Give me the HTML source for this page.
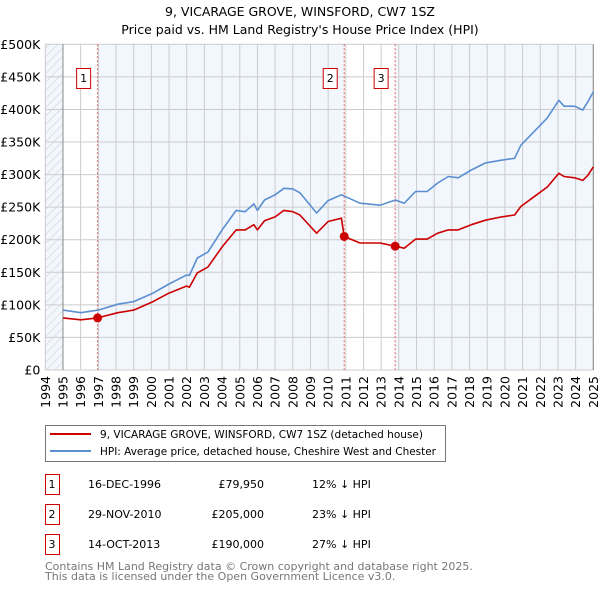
<!DOCTYPE html>
<html><head><meta charset="utf-8"><style>
body{margin:0;background:#fff;font-family:"DejaVu Sans","Liberation Sans",sans-serif}
svg text{font-family:"DejaVu Sans","Liberation Sans",sans-serif}
</style></head><body>
<svg id="c" width="600" height="590" xmlns="http://www.w3.org/2000/svg">
<defs><pattern id="hatch" width="6" height="6" patternUnits="userSpaceOnUse" patternTransform="rotate(45)"><line x1="0" y1="0" x2="0" y2="6" stroke="#ccc" stroke-width="1"/></pattern></defs>
<text x="300" y="16" text-anchor="middle" font-size="12.5">9, VICARAGE GROVE, WINSFORD, CW7 1SZ</text>
<text x="300" y="34" text-anchor="middle" font-size="12.5">Price paid vs. HM Land Registry's House Price Index (HPI)</text>
<g id="plot"></g>
<g>
<rect x="45.5" y="425.5" width="400" height="36" fill="#fff" stroke="#777"/>
<line x1="50" y1="434" x2="91" y2="434" stroke="#cc0000" stroke-width="2"/>
<text x="100" y="438" font-size="11" textLength="323" lengthAdjust="spacingAndGlyphs">9, VICARAGE GROVE, WINSFORD, CW7 1SZ (detached house)</text>
<line x1="50" y1="451" x2="91" y2="451" stroke="#5b8fd0" stroke-width="2"/>
<text x="100" y="455" font-size="11" textLength="336" lengthAdjust="spacingAndGlyphs">HPI: Average price, detached house, Cheshire West and Chester</text>
</g>
<g id="table" font-size="11"></g>
<text x="45" y="570" font-size="11" fill="#777">Contains HM Land Registry data © Crown copyright and database right 2025.</text>
<text x="45" y="580" font-size="11" fill="#777">This data is licensed under the Open Government Licence v3.0.</text>
</svg>
<script>
const hpiYears=[1995,1996,1997,1998.1,1999,2000.1,2001,2002,2002.15,2002.6,2003.2,2004,2004.8,2005.3,2005.8,2006,2006.4,2007,2007.5,2008,2008.4,2009.35,2010,2010.75,2011.8,2012.95,2013.8,2014.3,2014.95,2015.6,2016.2,2016.8,2017.35,2018.1,2018.9,2019.8,2020.55,2020.9,2021.65,2022.4,2023.05,2023.35,2023.95,2024.4,2024.7,2025];
const hpiValues=[92,88,92,101,105,118,132,146,145,172,181,215,245,243,255,245,261,269,279,278,272,241,260,269,256,253,261,256,274,274,287,297,295,307,318,322,325,345,366,387,414,405,405,399,412,427];
const ppYears=[1995,1996,1996.96,1998.1,1999,2000.1,2001,2002,2002.15,2002.6,2003.2,2004,2004.8,2005.3,2005.8,2006,2006.4,2007,2007.5,2008,2008.4,2009.35,2010,2010.75,2010.91,2011.8,2012.95,2013.79,2014.3,2014.95,2015.6,2016.2,2016.8,2017.35,2018.1,2018.9,2019.8,2020.55,2020.9,2021.65,2022.4,2023.05,2023.35,2023.95,2024.4,2024.7,2025];
const ppValues=[80,77,79.95,88,92,105,118,129,127,149,158,189,215,215,223,215,229,235,245,243,238,210,228,233,205,195,195,190,187,201,201,210,215,215,223,230,235,238,251,266,281,302,297,295,291,299,312];
const saleLabels=["1","2","3"];
const saleYears=[1996.96,2010.91,2013.79];
const saleValues=[79.95,205,190];
const saleDates=["16-DEC-1996","29-NOV-2010","14-OCT-2013"];
const salePrices=["£79,950","£205,000","£190,000"];
const saleDiffs=["12% ↓ HPI","23% ↓ HPI","27% ↓ HPI"];
const yTicks=[0,50,100,150,200,250,300,350,400,450,500];
const yTickLabels=["£0","£50K","£100K","£150K","£200K","£250K","£300K","£350K","£400K","£450K","£500K"];
const xStart=1994,xEnd=2025;
const L=45.3,R=593.3,T=44.3,B=370;
const X=y=>L+(y-xStart)*(R-L)/(xEnd-xStart);
const Y=v=>B-v*(B-T)/500;
const NS="http://www.w3.org/2000/svg";
const g=document.getElementById('plot');
function el(t,a,p){const e=document.createElementNS(NS,t);for(const k in a)e.setAttribute(k,a[k]);(p||g).appendChild(e);return e;}
let bg=el('rect',{x:L,y:T,width:R-L,height:B-T,fill:'#f2f6fd'});


let h=el('rect',{x:L,y:T,width:X(1995)-L,height:B-T,fill:'url(#hatch)'});


let w1=el('rect',{x:X(1995),y:T,width:X(saleYears[0])-X(1995),height:B-T,fill:'#fff'});


let w2=el('rect',{x:X(saleYears[1]),y:T,width:X(saleYears[2])-X(saleYears[1]),height:B-T,fill:'#fff'});


for(let yr=xStart;yr<=xEnd;yr++){
 const gl=el('line',{x1:X(yr),x2:X(yr),y1:T,y2:B,stroke:'#ccc','stroke-width':1});
 
 
 const t=el('text',{x:0,y:0,'font-size':12.5,'text-anchor':'end',transform:`translate(${X(yr)+4.5},${B+6}) rotate(-90)`});
 t.textContent=yr;
 
 
}
yTicks.forEach((v,i)=>{
 const gl=el('line',{x1:L,x2:R,y1:Y(v),y2:Y(v),stroke:'#ccc','stroke-width':1});
 
 
 const t=el('text',{x:L-5,y:Y(v)+4.5,'font-size':12.5,'text-anchor':'end'});
 t.textContent=yTickLabels[i];
 
 
});
let ax=el('line',{x1:X(1995),x2:X(1995),y1:T,y2:B,stroke:'#888'});


let ax2=el('line',{x1:R,x2:R,y1:T,y2:B,stroke:'#888'});


saleYears.forEach((yr,i)=>{
 const l=el('line',{x1:X(yr),x2:X(yr),y1:T,y2:B,stroke:'#e06060','stroke-width':1,'stroke-dasharray':'2,2'});
 
 
 const b=el('rect',{x:X(yr)-21,y:68.5,width:14,height:20,fill:'#fff',stroke:'#cc0000'});
 
 
 const t=el('text',{x:X(yr)-14,y:82,'font-size':11,'text-anchor':'middle'});
 t.textContent=saleLabels[i];
 
 
});
function line(xs,vs,col,name){
 const p=el('path',{d:xs.map((x,i)=>(i?'L':'M')+X(x).toFixed(1)+','+Y(vs[i]).toFixed(1)).join(''),fill:'none',stroke:col,'stroke-width':1.6,'stroke-linejoin':'round'});
 
 
}
line(hpiYears,hpiValues,'#5b8fd0','hpi-line');
line(ppYears,ppValues,'#cc0000','price-paid-line');
saleYears.forEach((yr,i)=>{
 const c=el('circle',{cx:X(yr),cy:Y(saleValues[i]),r:4.5,fill:'#cc0000'});
 
 
});
const tb=document.getElementById('table');
saleLabels.forEach((s,i)=>{
 const cy=484+i*30;
 const r=el('rect',{x:45.5,y:cy-9.5,width:14,height:20,fill:'#fff',stroke:'#cc0000'},tb);
 
 
 const cells=[[52,s,'middle'],[88,saleDates[i],'start'],[264,salePrices[i],'end'],[312,saleDiffs[i],'start']];
 const names=['table-sale-number','table-sale-date','table-sale-price','table-sale-hpi-diff'];
 cells.forEach((c,j)=>{
  const t=el('text',{x:c[0],y:cy+4,'text-anchor':c[2]},tb);
  t.textContent=c[1];
  
  
 });
});
</script>
</body></html>
